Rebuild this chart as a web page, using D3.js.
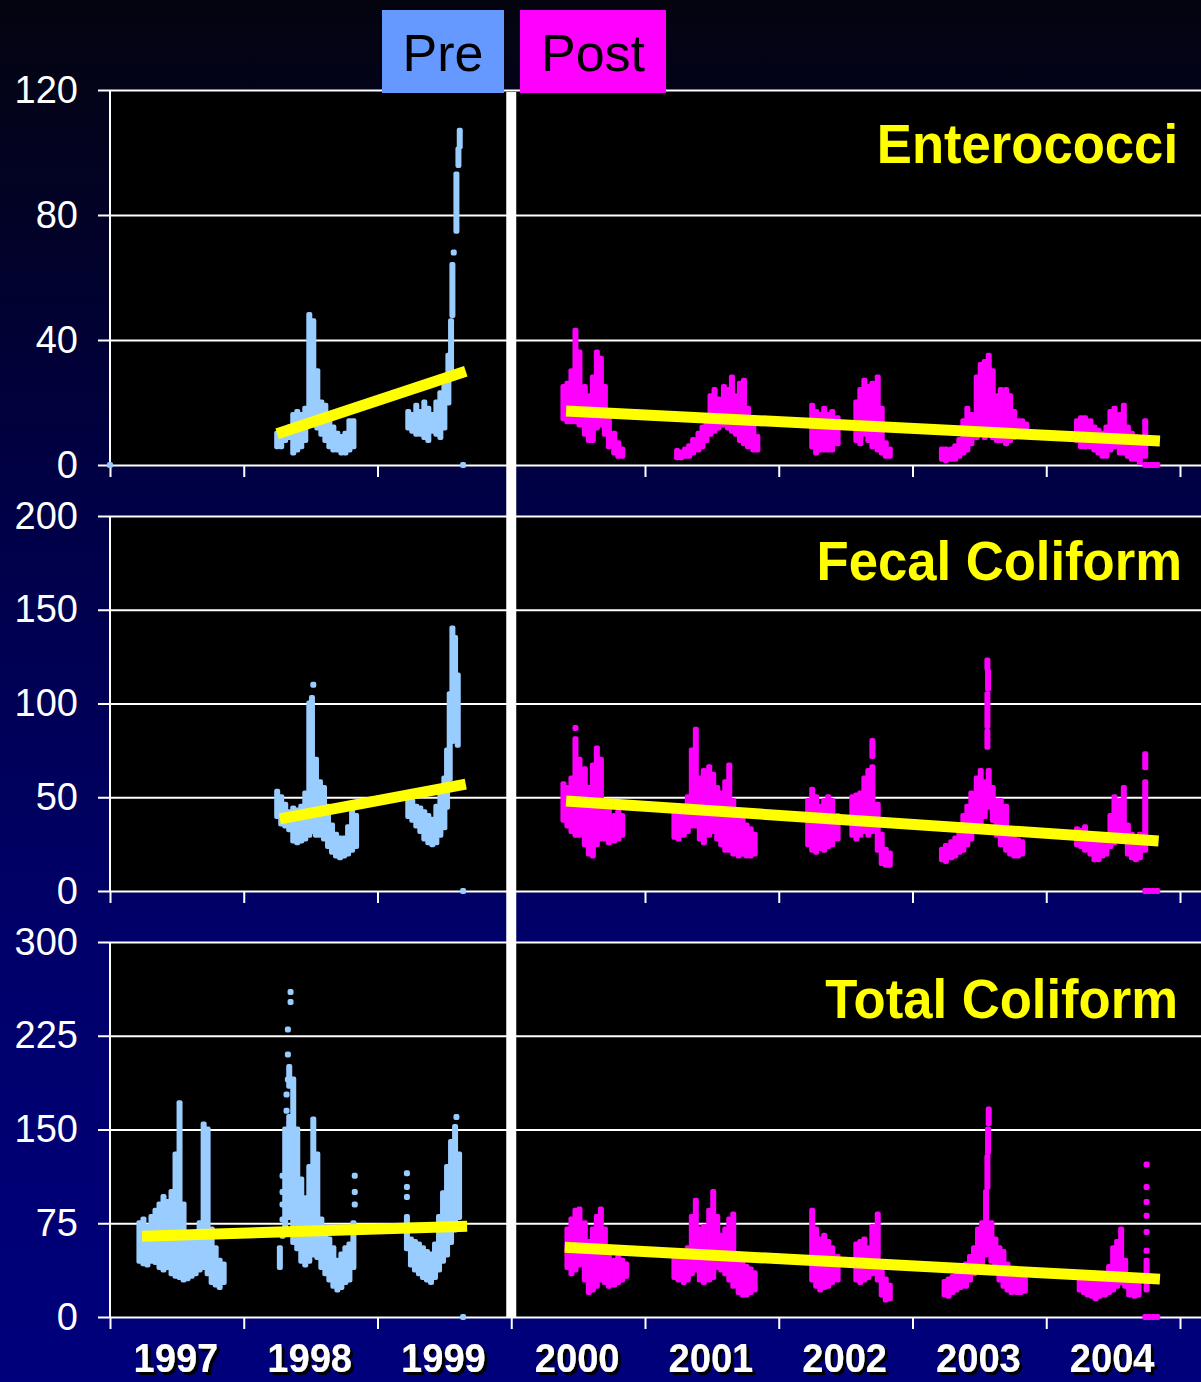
<!DOCTYPE html>
<html>
<head>
<meta charset="utf-8">
<script src="https://cdn.jsdelivr.net/npm/d3@7"></script>
<style>
  body { margin: 0; background: #000; }
  svg { display: block; }
</style>
</head>
<body>
<div id="chart"></div>
<script>
// --- données : [année décimale, min, max] (ou [année, valeur]) ---
const years = [1997, 1998, 1999, 2000, 2001, 2002, 2003, 2004];

const enteroTicks = [0, 40, 80, 120];
const fecalTicks = [0, 50, 100, 150, 200];
const totalTicks = [0, 75, 150, 225, 300];

const enteroPre = [
  [1997.0, 0],
  [1998.25, 6, 10], [1998.28, 6, 11], [1998.31, 8, 11], [1998.34, 9, 12], [1998.37, 4, 16], [1998.40, 5, 17],
  [1998.43, 6, 16], [1998.46, 8, 18], [1998.49, 14, 48], [1998.52, 13, 46], [1998.55, 12, 30], [1998.58, 10, 20],
  [1998.61, 8, 19], [1998.64, 6, 15], [1998.67, 5, 12], [1998.70, 5, 10], [1998.73, 4, 9], [1998.76, 4, 10],
  [1998.79, 5, 14], [1998.82, 6, 14],
  [1999.23, 12, 17], [1999.26, 11, 16], [1999.29, 10, 19], [1999.32, 10, 17], [1999.35, 9, 20], [1999.38, 8, 18],
  [1999.41, 11, 16], [1999.44, 10, 20], [1999.47, 9, 23], [1999.50, 12, 25], [1999.53, 20, 35], [1999.55, 28, 46],
  [1999.56, 48, 64], [1999.57, 68], [1999.59, 75, 93], [1999.605, 96, 101], [1999.615, 102, 107],
  [1999.64, 0]
];

const enteroPost = [
  [2000.39, 15, 25], [2000.42, 14, 26], [2000.45, 14, 30], [2000.48, 14, 43], [2000.51, 13, 36], [2000.55, 10, 25],
  [2000.58, 8, 22], [2000.61, 8, 28], [2000.64, 12, 36], [2000.67, 13, 34], [2000.70, 10, 25], [2000.73, 6, 15],
  [2000.77, 4, 10], [2000.80, 3, 7], [2000.83, 3, 5],
  [2001.24, 2.5, 4.5], [2001.27, 2.5, 4], [2001.30, 3, 5], [2001.33, 3, 6], [2001.36, 4, 8], [2001.40, 5, 10],
  [2001.43, 6, 12], [2001.46, 8, 15], [2001.49, 10, 22], [2001.52, 11, 24], [2001.55, 12, 21], [2001.59, 13, 25],
  [2001.62, 12, 24], [2001.65, 11, 28], [2001.68, 10, 22], [2001.71, 8, 26], [2001.74, 7, 27], [2001.77, 6, 18],
  [2001.81, 5, 12], [2001.84, 5, 9],
  [2002.25, 6, 19], [2002.28, 4, 17], [2002.31, 5, 16], [2002.34, 5, 18], [2002.37, 5, 16], [2002.40, 5, 17],
  [2002.44, 7, 15],
  [2002.58, 8, 20], [2002.61, 7, 24], [2002.64, 10, 27], [2002.67, 8, 25], [2002.70, 6, 26], [2002.74, 5, 28],
  [2002.77, 4, 18], [2002.80, 3, 7], [2002.83, 3, 5],
  [2003.22, 2, 5], [2003.25, 1.5, 5], [2003.29, 2, 5], [2003.32, 2, 6], [2003.35, 3, 8], [2003.38, 4, 14],
  [2003.41, 5, 18], [2003.44, 7, 16], [2003.48, 9, 28], [2003.51, 10, 32], [2003.54, 9, 33], [2003.57, 10, 35],
  [2003.60, 9, 30], [2003.63, 8, 22], [2003.66, 8, 24], [2003.70, 7, 24], [2003.73, 8, 22], [2003.76, 9, 17],
  [2003.79, 10, 14], [2003.82, 11, 14], [2003.85, 11, 13],
  [2004.23, 8, 14], [2004.26, 6, 15], [2004.29, 6, 15], [2004.33, 6, 14], [2004.36, 5, 12], [2004.39, 4, 11],
  [2004.42, 3, 10], [2004.45, 3, 12], [2004.48, 5, 17], [2004.51, 6, 18], [2004.55, 4, 16], [2004.58, 4, 19],
  [2004.61, 3, 12], [2004.64, 2, 10], [2004.67, 2, 9], [2004.70, 1, 6], [2004.74, 3, 14],
  [2004.74, 0], [2004.77, 0], [2004.80, 0], [2004.83, 0]
];

const fecalPre = [
  [1998.25, 40, 53], [1998.28, 36, 50], [1998.31, 35, 46], [1998.34, 33, 42], [1998.37, 27, 44], [1998.40, 26, 43],
  [1998.43, 27, 45], [1998.46, 28, 52], [1998.49, 30, 100], [1998.51, 32, 103], [1998.52, 110], [1998.54, 30, 70],
  [1998.57, 30, 58], [1998.60, 28, 55], [1998.63, 24, 45], [1998.66, 21, 35], [1998.69, 19, 30], [1998.72, 18, 28],
  [1998.75, 19, 28], [1998.78, 20, 34], [1998.81, 22, 43], [1998.84, 24, 40],
  [1999.23, 40, 50], [1999.26, 38, 48], [1999.29, 35, 45], [1999.32, 32, 44], [1999.35, 28, 42], [1999.38, 26, 40],
  [1999.41, 25, 38], [1999.44, 26, 45], [1999.47, 30, 55], [1999.50, 34, 60], [1999.52, 45, 75], [1999.54, 60, 105],
  [1999.56, 80, 140], [1999.58, 85, 135], [1999.60, 78, 115],
  [1999.64, 0]
];

const fecalPost = [
  [2000.39, 38, 57], [2000.42, 35, 55], [2000.45, 32, 60], [2000.48, 30, 81], [2000.48, 87], [2000.51, 30, 70],
  [2000.55, 25, 65], [2000.58, 20, 55], [2000.61, 19, 67], [2000.64, 25, 76], [2000.67, 28, 70], [2000.70, 28, 48],
  [2000.73, 26, 44], [2000.77, 27, 40], [2000.80, 28, 42], [2000.83, 30, 40],
  [2001.22, 29, 42], [2001.25, 28, 44], [2001.29, 30, 45], [2001.32, 32, 50], [2001.35, 35, 75], [2001.38, 35, 86],
  [2001.41, 28, 60], [2001.44, 26, 64], [2001.48, 30, 66], [2001.51, 32, 62], [2001.54, 28, 55], [2001.57, 25, 52],
  [2001.60, 22, 58], [2001.63, 22, 67], [2001.66, 20, 48], [2001.70, 19, 42], [2001.73, 20, 38], [2001.76, 19, 35],
  [2001.79, 19, 33], [2001.82, 20, 30],
  [2002.22, 25, 48], [2002.25, 22, 54], [2002.28, 21, 50], [2002.31, 23, 45], [2002.34, 22, 48], [2002.37, 24, 50],
  [2002.40, 25, 48], [2002.44, 28, 40],
  [2002.55, 30, 50], [2002.58, 28, 51], [2002.61, 30, 52], [2002.64, 32, 60], [2002.67, 30, 64], [2002.70, 32, 66],
  [2002.70, 72, 80], [2002.74, 22, 46], [2002.77, 15, 30], [2002.80, 14, 22], [2002.83, 14, 20],
  [2003.22, 17, 22], [2003.25, 16, 24], [2003.29, 18, 26], [2003.32, 19, 28], [2003.35, 21, 32], [2003.38, 22, 40],
  [2003.41, 25, 45], [2003.44, 28, 52], [2003.48, 32, 60], [2003.51, 36, 64], [2003.54, 40, 58],
  [2003.56, 77, 85], [2003.56, 88, 105], [2003.565, 108, 117], [2003.56, 119, 123],
  [2003.57, 45, 64], [2003.60, 38, 55], [2003.63, 30, 48], [2003.66, 25, 48], [2003.70, 22, 45], [2003.73, 20, 30],
  [2003.76, 19, 28], [2003.79, 19, 27], [2003.82, 20, 26],
  [2004.23, 25, 33], [2004.26, 24, 32], [2004.29, 22, 34], [2004.33, 20, 30], [2004.36, 17, 28], [2004.39, 17, 26],
  [2004.42, 19, 27], [2004.45, 20, 28], [2004.48, 24, 40], [2004.51, 26, 50], [2004.55, 28, 48], [2004.58, 30, 55],
  [2004.61, 20, 35], [2004.64, 18, 30], [2004.67, 17, 28], [2004.70, 18, 30], [2004.74, 22, 58], [2004.74, 66, 73],
  [2004.74, 0], [2004.77, 0], [2004.80, 0], [2004.83, 0]
];

const totalPre = [
  [1997.22, 45, 75], [1997.25, 43, 78], [1997.28, 42, 72], [1997.31, 45, 80], [1997.34, 44, 85], [1997.37, 40, 90],
  [1997.40, 38, 96], [1997.43, 40, 92], [1997.46, 35, 100], [1997.49, 33, 130], [1997.52, 32, 171], [1997.55, 30, 90],
  [1997.58, 31, 65], [1997.61, 33, 60], [1997.64, 35, 62], [1997.67, 38, 75], [1997.70, 40, 154], [1997.73, 35, 150],
  [1997.76, 28, 70], [1997.79, 26, 55], [1997.82, 24, 45], [1997.85, 28, 42],
  [1998.27, 40, 55], [1998.29, 65], [1998.29, 78], [1998.29, 90], [1998.29, 100], [1998.29, 113],
  [1998.31, 70, 150], [1998.32, 165], [1998.32, 178], [1998.33, 190], [1998.33, 210], [1998.33, 230],
  [1998.34, 80, 160], [1998.34, 185, 200], [1998.35, 252], [1998.35, 260],
  [1998.37, 60, 190], [1998.40, 55, 150], [1998.43, 45, 110], [1998.46, 42, 95], [1998.49, 45, 120], [1998.52, 50, 158],
  [1998.55, 48, 130], [1998.58, 40, 78], [1998.61, 35, 70], [1998.64, 30, 62], [1998.67, 25, 55], [1998.70, 22, 45],
  [1998.73, 24, 50], [1998.76, 28, 55], [1998.79, 30, 58], [1998.82, 40, 75], [1998.83, 90], [1998.83, 100], [1998.83, 113],
  [1999.22, 55, 80], [1999.22, 96], [1999.22, 104], [1999.22, 115], [1999.25, 42, 62], [1999.28, 38, 60],
  [1999.31, 35, 58], [1999.34, 32, 55], [1999.37, 30, 52], [1999.40, 28, 50], [1999.43, 32, 58], [1999.46, 38, 80],
  [1999.49, 45, 99], [1999.52, 50, 120], [1999.55, 60, 140], [1999.58, 70, 152], [1999.59, 160], [1999.61, 80, 130],
  [1999.64, 0]
];

const totalPost = [
  [2000.42, 40, 70], [2000.45, 35, 78], [2000.48, 38, 85], [2000.51, 42, 86], [2000.55, 30, 75], [2000.58, 20, 60],
  [2000.61, 22, 70], [2000.64, 25, 80], [2000.67, 30, 86], [2000.70, 28, 70], [2000.73, 25, 50], [2000.77, 26, 45],
  [2000.80, 28, 48], [2000.83, 30, 45], [2000.86, 33, 42],
  [2001.22, 32, 48], [2001.25, 30, 50], [2001.29, 28, 51], [2001.32, 30, 55], [2001.35, 35, 80], [2001.38, 38, 93],
  [2001.41, 30, 70], [2001.44, 28, 72], [2001.48, 30, 85], [2001.51, 32, 100], [2001.54, 40, 80], [2001.57, 38, 65],
  [2001.60, 35, 70], [2001.63, 30, 78], [2001.66, 25, 82], [2001.70, 20, 50], [2001.73, 18, 44], [2001.76, 18, 40],
  [2001.79, 20, 38], [2001.82, 22, 35],
  [2002.25, 30, 85], [2002.28, 25, 70], [2002.31, 22, 62], [2002.34, 24, 65], [2002.37, 25, 60], [2002.40, 28, 55],
  [2002.44, 30, 48],
  [2002.58, 30, 58], [2002.61, 28, 60], [2002.64, 30, 62], [2002.67, 32, 55], [2002.70, 35, 72], [2002.74, 30, 82],
  [2002.77, 18, 38], [2002.80, 14, 30], [2002.83, 15, 25],
  [2003.24, 18, 28], [2003.27, 17, 30], [2003.30, 20, 32], [2003.33, 22, 35], [2003.36, 24, 38], [2003.40, 25, 42],
  [2003.43, 30, 48], [2003.46, 35, 55], [2003.49, 38, 70], [2003.52, 42, 75], [2003.55, 50, 100],
  [2003.56, 104, 128], [2003.565, 132, 150], [2003.57, 155, 166],
  [2003.59, 45, 75], [2003.62, 38, 62], [2003.65, 30, 55], [2003.68, 25, 52], [2003.71, 22, 42], [2003.74, 20, 35],
  [2003.78, 20, 32], [2003.81, 20, 30], [2003.84, 21, 30],
  [2004.25, 22, 35], [2004.28, 20, 33], [2004.31, 18, 32], [2004.34, 17, 30], [2004.37, 15, 28], [2004.40, 17, 27],
  [2004.44, 18, 30], [2004.47, 20, 40], [2004.50, 22, 55], [2004.53, 25, 60], [2004.56, 28, 70], [2004.59, 25, 45],
  [2004.62, 18, 30], [2004.66, 17, 28], [2004.69, 18, 27],
  [2004.75, 22, 45], [2004.75, 53], [2004.75, 68], [2004.75, 81], [2004.75, 92], [2004.75, 104], [2004.75, 122],
  [2004.74, 0], [2004.77, 0], [2004.80, 0], [2004.83, 0]
];

// droites de tendance : [année début, valeur début, année fin, valeur fin]
const enteroTrendPre = [1998.25, 10, 1999.66, 30];
const enteroTrendPost = [2000.41, 17.3, 2004.85, 7.7];
const fecalTrendPre = [1998.27, 38.5, 1999.66, 57];
const fecalTrendPost = [2000.41, 48, 2004.84, 26.7];
const totalTrendPre = [1997.24, 64.6, 1999.67, 72.6];
const totalTrendPost = [2000.40, 55.8, 2004.85, 30.3];

const panels = [
  { title: "Enterococci", ticks: enteroTicks, pre: enteroPre, post: enteroPost, trendPre: enteroTrendPre, trendPost: enteroTrendPost, top: 90, tx: 1178, ty: 163 },
  { title: "Fecal Coliform", ticks: fecalTicks, pre: fecalPre, post: fecalPost, trendPre: fecalTrendPre, trendPost: fecalTrendPost, top: 516, tx: 1182, ty: 580 },
  { title: "Total Coliform", ticks: totalTicks, pre: totalPre, post: totalPost, trendPre: totalTrendPre, trendPost: totalTrendPost, top: 942, tx: 1178, ty: 1018 }
];

// --- mise en page ---
const W = 1201, H = 1382;
const plotLeft = 110, plotRight = W;
const panelH = 375;
const preColor = "#99ccff", postColor = "#ff00ff", trendColor = "#ffff00";
const font = "'Liberation Sans', Arial, Helvetica, sans-serif";

const svg = d3.select("#chart").append("svg")
  .attr("width", W).attr("height", H)
  .attr("viewBox", `0 0 ${W} ${H}`);

const defs = svg.append("defs");
// dégradé de fond (noir en haut, bleu marine en bas)
const grad = defs.append("linearGradient")
  .attr("id", "bg").attr("x1", 0).attr("y1", 0).attr("x2", 0).attr("y2", 1);
grad.append("stop").attr("offset", "0%").attr("stop-color", "#04040f");
grad.append("stop").attr("offset", "35%").attr("stop-color", "#000045");
grad.append("stop").attr("offset", "68%").attr("stop-color", "#00006a");
grad.append("stop").attr("offset", "100%").attr("stop-color", "#00007c");
svg.append("rect").attr("width", W).attr("height", H).attr("fill", "url(#bg)");

// ombre portée des années
defs.append("filter").attr("id", "shadow")
  .attr("x", "-10%").attr("y", "-10%").attr("width", "130%").attr("height", "130%")
  .append("feDropShadow")
  .attr("dx", 3).attr("dy", 3).attr("stdDeviation", 0)
  .attr("flood-color", "#000").attr("flood-opacity", 1);

const x = d3.scaleLinear().domain([1997, 2005]).range([plotLeft, 1180]);

panels.forEach(p => {
  const top = p.top, bottom = top + panelH;
  const y = d3.scaleLinear().domain([0, p.ticks[p.ticks.length - 1]]).range([bottom, top]);
  const g = svg.append("g");

  g.append("rect")
    .attr("x", plotLeft).attr("y", top)
    .attr("width", plotRight - plotLeft).attr("height", panelH)
    .attr("fill", "#000");

  // axe Y + grille horizontale
  const ya = g.append("g")
    .attr("transform", `translate(${plotLeft},0)`)
    .call(d3.axisLeft(y).tickValues(p.ticks)
      .tickSizeInner(-(plotRight - plotLeft)).tickSizeOuter(0).tickPadding(32));
  ya.select(".domain").remove();
  ya.selectAll(".tick line").attr("x1", -12).attr("stroke", "#fff").attr("stroke-width", 2);
  ya.selectAll(".tick text")
    .attr("fill", "#fff").attr("font-size", 38).attr("font-family", font);

  // graduations des années
  const xa = g.append("g")
    .attr("transform", `translate(0,${bottom})`)
    .call(d3.axisBottom(x).tickValues(d3.range(1997, 2006)).tickSize(12).tickFormat(""));
  xa.select(".domain").remove();
  xa.selectAll(".tick line").attr("stroke", "#fff").attr("stroke-width", 2);

  g.append("line")
    .attr("x1", plotLeft).attr("x2", plotLeft)
    .attr("y1", top).attr("y2", bottom)
    .attr("stroke", "#fff").attr("stroke-width", 2);

  // points (chaque entrée = colonne de mesures min..max)
  function drawPoints(data, color) {
    g.append("g").selectAll("rect")
      .data(data)
      .join("rect")
      .attr("x", d => x(d[0]) - 3)
      .attr("width", 6)
      .attr("y", d => y(d.length > 2 ? d[2] : d[1]) - 3)
      .attr("height", d => y(d[1]) - y(d.length > 2 ? d[2] : d[1]) + 6)
      .attr("rx", 2)
      .attr("fill", color);
  }
  drawPoints(p.pre, preColor);
  drawPoints(p.post, postColor);

  // tendances
  [p.trendPre, p.trendPost].forEach(t => {
    g.append("line")
      .attr("x1", x(t[0])).attr("y1", y(t[1]))
      .attr("x2", x(t[2])).attr("y2", y(t[3]))
      .attr("stroke", trendColor).attr("stroke-width", 11);
  });

  g.append("text")
    .attr("transform", `translate(${p.tx},${p.ty}) scale(0.94,1)`)
    .attr("text-anchor", "end")
    .attr("font-family", font).attr("font-weight", "bold").attr("font-size", 56)
    .attr("fill", trendColor)
    .text(p.title);
});

// séparation avant / après
const sepX = x(2000);
svg.append("rect")
  .attr("x", sepX - 5).attr("y", 92)
  .attr("width", 10).attr("height", 1318 - 92)
  .attr("fill", "#fff");

// étiquettes Pre / Post
const boxes = [
  { label: "Pre", x0: 382, x1: 504, color: "#6699ff" },
  { label: "Post", x0: 520, x1: 666, color: "#ff00ff" }
];
boxes.forEach(b => {
  svg.append("rect")
    .attr("x", b.x0).attr("y", 10)
    .attr("width", b.x1 - b.x0).attr("height", 83)
    .attr("fill", b.color);
  svg.append("text")
    .attr("x", (b.x0 + b.x1) / 2).attr("y", 71)
    .attr("text-anchor", "middle")
    .attr("font-family", font).attr("font-size", 52)
    .attr("fill", "#000")
    .text(b.label);
});

// années en bas, avec ombre portée
const yearLabels = svg.append("g")
  .attr("font-family", font).attr("font-weight", "bold").attr("font-size", 41)
  .attr("fill", "#fff").attr("filter", "url(#shadow)");
years.forEach(yr => {
  yearLabels.append("text")
    .attr("transform", `translate(${x(yr + 0.5) - 1},1372) scale(0.93,1)`)
    .attr("text-anchor", "middle")
    .text(yr);
});
</script>
</body>
</html>
